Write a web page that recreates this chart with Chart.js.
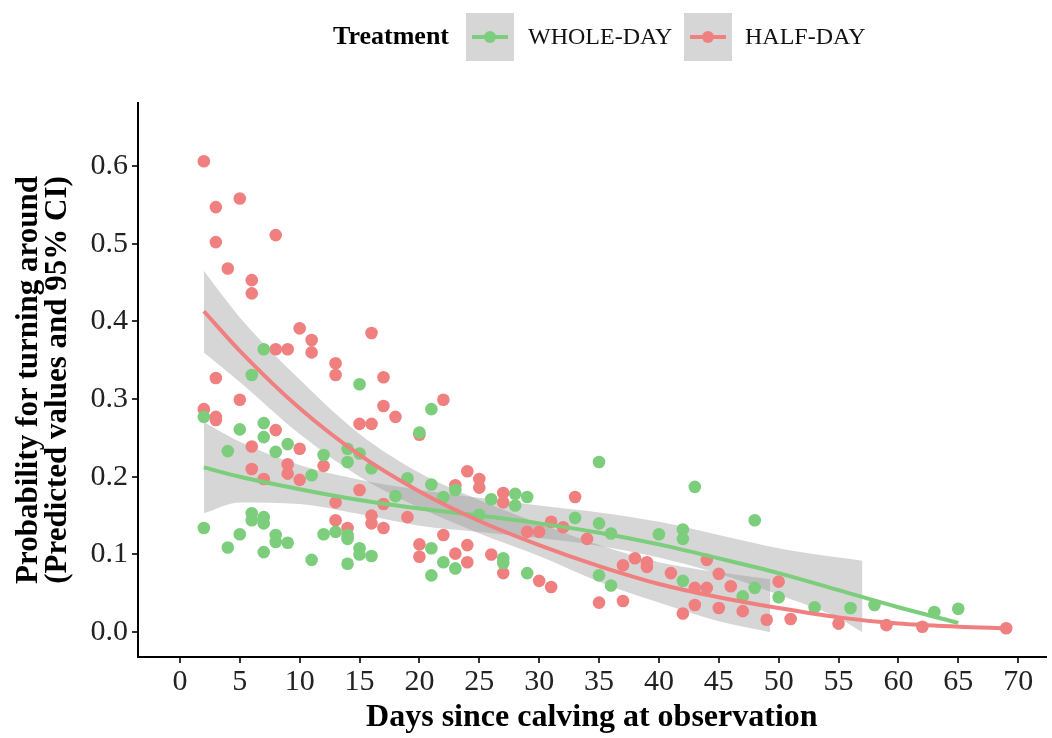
<!DOCTYPE html>
<html>
<head>
<meta charset="utf-8">
<script src="https://cdn.jsdelivr.net/npm/chart.js@4.4.1/dist/chart.umd.min.js"></script>
<style>
  html, body { margin: 0; padding: 0; background: #fff; }
  #wrap { width: 1052px; height: 738px; position: relative; }
</style>
</head>
<body>
<div id="wrap"><canvas id="c" width="1052" height="738"></canvas></div>
<script>
// ---- Data ----
const xTicks = [0, 5, 10, 15, 20, 25, 30, 35, 40, 45, 50, 55, 60, 65, 70];
const yTicks = [0.0, 0.1, 0.2, 0.3, 0.4, 0.5, 0.6];
const seriesNames = ["WHOLE-DAY", "HALF-DAY"];
const legendTitle = "Treatment";
const xTitle = "Days since calving at observation";
const yTitle = ["Probability for turning around", "(Predicted values and 95% CI)"];

// WHOLE-DAY observed points
const wholeDays = [2,2,4,4,5,5,6,6,6,7,7,7,7,7,7,8,8,8,9,9,11,11,12,12,13,14,14,14,14,14,15,15,15,15,16,16,18,19,20,21,21,21,21,22,22,23,23,25,26,27,27,28,28,29,29,33,35,35,35,36,36,40,42,42,42,43,47,48,48,50,53,56,58,63,65];
const wholeVals = [0.277,0.134,0.233,0.109,0.261,0.126,0.331,0.153,0.144,0.364,0.269,0.251,0.148,0.14,0.103,0.232,0.125,0.116,0.242,0.115,0.202,0.093,0.228,0.126,0.129,0.236,0.219,0.125,0.12,0.088,0.319,0.23,0.108,0.1,0.211,0.098,0.175,0.198,0.257,0.287,0.19,0.108,0.073,0.174,0.09,0.183,0.082,0.151,0.171,0.095,0.089,0.178,0.163,0.174,0.076,0.147,0.219,0.14,0.073,0.127,0.06,0.126,0.132,0.12,0.066,0.187,0.046,0.144,0.057,0.045,0.032,0.031,0.035,0.026,0.03];

// HALF-DAY observed points
const halfDays = [2,2,3,3,3,3,3,4,5,5,6,6,6,6,7,8,8,8,9,9,9,10,10,10,11,11,12,13,13,13,13,14,15,15,16,16,16,16,17,17,17,17,18,19,20,20,20,22,22,23,23,24,24,24,25,25,26,27,27,27,29,30,30,31,31,32,33,34,35,37,37,38,39,39,41,42,43,43,44,44,45,45,46,47,49,50,51,55,59,62,69];
const halfVals = [0.606,0.287,0.547,0.502,0.327,0.277,0.273,0.468,0.558,0.299,0.453,0.436,0.239,0.21,0.197,0.511,0.364,0.26,0.364,0.216,0.204,0.391,0.236,0.196,0.376,0.36,0.214,0.346,0.331,0.167,0.144,0.134,0.268,0.183,0.385,0.268,0.15,0.14,0.328,0.291,0.165,0.134,0.277,0.148,0.254,0.113,0.097,0.299,0.125,0.189,0.101,0.207,0.112,0.09,0.197,0.186,0.1,0.179,0.167,0.076,0.129,0.129,0.066,0.142,0.058,0.135,0.174,0.12,0.038,0.086,0.04,0.095,0.09,0.084,0.076,0.024,0.057,0.035,0.093,0.057,0.075,0.031,0.059,0.027,0.016,0.065,0.017,0.011,0.009,0.007,0.005];

// Predicted curves
const wholeFitDays = [2, 5, 10, 15, 20, 25, 30, 35, 40, 45, 50, 55, 60, 65];
const wholeFitVals = [0.212, 0.200, 0.184, 0.170, 0.159, 0.150, 0.140, 0.128, 0.113, 0.095, 0.076, 0.054, 0.032, 0.012];
const halfFitDays = [2, 5, 10, 15, 20, 25, 30, 35, 40, 45, 50, 55, 60, 65, 69];
const halfFitVals = [0.413, 0.362, 0.288, 0.228, 0.181, 0.143, 0.112, 0.085, 0.062, 0.045, 0.031, 0.019, 0.011, 0.007, 0.005];

// 95% CI bands
const wholeCIDays = [2, 5, 10, 15, 20, 25, 30, 35, 40, 45, 50, 55, 57];
const wholeCIUpper = [0.27, 0.245, 0.215, 0.196, 0.183, 0.173, 0.163, 0.154, 0.142, 0.125, 0.108, 0.096, 0.092];
const wholeCILower = [0.153, 0.167, 0.165, 0.152, 0.137, 0.129, 0.121, 0.111, 0.096, 0.075, 0.048, 0.018, 0.0];
const halfCIDays = [2, 5, 10, 15, 20, 25, 30, 35, 40, 45, 49.3];
const halfCIUpper = [0.465, 0.405, 0.325, 0.255, 0.205, 0.17, 0.14, 0.112, 0.09, 0.077, 0.068];
const halfCILower = [0.36, 0.322, 0.255, 0.2, 0.16, 0.127, 0.098, 0.065, 0.038, 0.014, 0.0];

// ---- Styling ----
const GREEN = '#7CCD7C';
const RED = '#F08080';
const BAND = 'rgba(153,153,153,0.4)';
const FONT = "'Liberation Serif', 'Times New Roman', serif";

const pts = (xs, ys) => xs.map((x, i) => ({ x: x, y: ys[i] }));

function bandPair(days, up, lo) {
  return [
    { data: pts(days, up), showLine: true, pointRadius: 0, borderWidth: 0, borderColor: 'rgba(0,0,0,0)',
      backgroundColor: BAND, fill: '+1', cubicInterpolationMode: 'monotone', order: 3 },
    { data: pts(days, lo), showLine: true, pointRadius: 0, borderWidth: 0, borderColor: 'rgba(0,0,0,0)',
      backgroundColor: BAND, fill: false, cubicInterpolationMode: 'monotone', order: 3 }
  ];
}

const datasets = [
  ...bandPair(wholeCIDays, wholeCIUpper, wholeCILower),
  ...bandPair(halfCIDays, halfCIUpper, halfCILower),
  { label: seriesNames[0], data: pts(wholeDays, wholeVals), pointRadius: 6.3, pointHoverRadius: 6.3,
    backgroundColor: GREEN, borderColor: GREEN, borderWidth: 0, order: 2 },
  { label: seriesNames[1], data: pts(halfDays, halfVals), pointRadius: 6.3, pointHoverRadius: 6.3,
    backgroundColor: RED, borderColor: RED, borderWidth: 0, order: 2 },
  { data: pts(wholeFitDays, wholeFitVals), showLine: true, pointRadius: 0, borderColor: GREEN,
    borderWidth: 4, fill: false, cubicInterpolationMode: 'monotone', order: 1 },
  { data: pts(halfFitDays, halfFitVals), showLine: true, pointRadius: 0, borderColor: RED,
    borderWidth: 4, fill: false, cubicInterpolationMode: 'monotone', order: 0 }
];

const legendPlugin = {
  id: 'ggLegend',
  afterDraw(chart) {
    const ctx = chart.ctx;
    ctx.save();
    ctx.textBaseline = 'middle';
    ctx.fillStyle = '#000';
    ctx.font = "bold 26px " + FONT;
    ctx.textAlign = 'left';
    const cy = 37;
    ctx.fillText(legendTitle, 333, cy);
    const keys = [
      { x: 466, color: GREEN, label: seriesNames[0], tx: 528 },
      { x: 684, color: RED, label: seriesNames[1], tx: 745 }
    ];
    ctx.font = "24px " + FONT;
    keys.forEach(k => {
      ctx.fillStyle = '#D6D6D6';
      ctx.fillRect(k.x, 13, 48, 48);
      ctx.strokeStyle = k.color;
      ctx.lineWidth = 4;
      ctx.beginPath();
      ctx.moveTo(k.x + 6, cy);
      ctx.lineTo(k.x + 42, cy);
      ctx.stroke();
      ctx.fillStyle = k.color;
      ctx.beginPath();
      ctx.arc(k.x + 24, cy, 6, 0, Math.PI * 2);
      ctx.fill();
      ctx.fillStyle = '#111';
      ctx.fillText(k.label, k.tx, cy + 1);
    });
    ctx.restore();
  }
};

new Chart(document.getElementById('c'), {
  type: 'scatter',
  data: { datasets: datasets },
  plugins: [legendPlugin],
  options: {
    responsive: false,
    animation: false,
    devicePixelRatio: 1,
    layout: { padding: { top: 103, right: 2, left: 0, bottom: 0 } },
    plugins: { legend: { display: false }, tooltip: { enabled: false } },
    scales: {
      x: {
        type: 'linear',
        min: -3.5,
        max: 72.3,
        afterBuildTicks: s => { s.ticks = xTicks.map(v => ({ value: v })); },
        afterFit: s => { s.height = 81; },
        border: { display: true, color: '#000', width: 2 },
        grid: { display: true, drawOnChartArea: false, drawTicks: true, tickLength: 6, color: '#333', lineWidth: 2 },
        ticks: { color: '#222', font: { family: FONT, size: 30 }, padding: 1, maxRotation: 0, autoSkip: false },
        title: { display: true, text: xTitle, color: '#000', font: { family: FONT, size: 32, weight: 'bold' }, padding: { top: 0, bottom: 1 } }
      },
      y: {
        type: 'linear',
        min: -0.032,
        max: 0.681,
        afterBuildTicks: s => { s.ticks = yTicks.map(v => ({ value: v })); },
        afterFit: s => { s.width = 138; },
        border: { display: true, color: '#000', width: 2 },
        grid: { display: true, drawOnChartArea: false, drawTicks: true, tickLength: 6, color: '#333', lineWidth: 2 },
        ticks: { color: '#222', font: { family: FONT, size: 30 }, padding: 4, callback: v => Number(v).toFixed(1) },
        title: { display: true, text: yTitle, color: '#000', font: { family: FONT, size: 31, weight: 'bold', lineHeight: 0.95 }, padding: { top: 14, bottom: 0 } }
      }
    }
  }
});
</script>
</body>
</html>
